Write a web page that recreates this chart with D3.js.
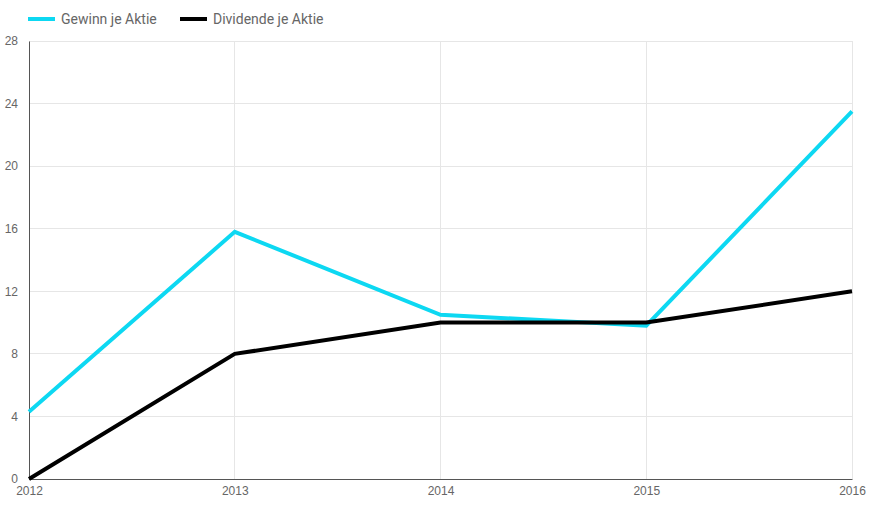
<!DOCTYPE html>
<meta charset="utf-8">
<style>
body { margin: 0; background: #fff; }
svg { font-family: Roboto, sans-serif; }
.grid line { stroke: #e6e6e6; stroke-width: 1; shape-rendering: crispEdges; }
.axis text { fill: #666; font-size: 12px; }
.legend text { fill: #666; font-size: 14px; }
</style>
<body>
<script src="https://d3js.org/d3.v7.min.js"></script>
<script>

var years = [2012, 2013, 2014, 2015, 2016];
var gewinn = [4.3, 15.8, 10.5, 9.8, 23.5];
var dividende = [0, 8, 10, 10, 12];
var yTicks = [0, 4, 8, 12, 16, 20, 24, 28];

var series = [
  { name: "Gewinn je Aktie", values: gewinn, color: "#0dd8f2" },
  { name: "Dividende je Aktie", values: dividende, color: "#000" }
];

var width = 890, height = 512;
var plotLeft = 29, plotRight = 852, plotTop = 41, plotBottom = 479;

var svg = d3.select("body").append("svg")
  .attr("width", width)
  .attr("height", height);

var x = d3.scaleLinear().domain([2012, 2016]).range([plotLeft, plotRight]);
var y = d3.scaleLinear().domain([0, 28]).range([plotBottom, plotTop]);

// grid
var grid = svg.append("g").attr("class", "grid");
grid.selectAll("line.h")
  .data(yTicks.slice(1))
  .enter().append("line")
  .attr("class", "h")
  .attr("x1", plotLeft).attr("x2", plotRight)
  .attr("y1", function (d) { return y(d); })
  .attr("y2", function (d) { return y(d); });
grid.selectAll("line.v")
  .data(years.slice(1))
  .enter().append("line")
  .attr("class", "v")
  .attr("x1", function (d) { return x(d); })
  .attr("x2", function (d) { return x(d); })
  .attr("y1", plotTop).attr("y2", plotBottom);

// axes
var yAxis = svg.append("g").attr("class", "axis")
  .attr("transform", "translate(" + plotLeft + ",0)")
  .call(d3.axisLeft(y).tickValues(yTicks).tickSize(0).tickPadding(11));
yAxis.select(".domain").attr("stroke", "#555");

var xAxis = svg.append("g").attr("class", "axis")
  .attr("transform", "translate(0," + plotBottom + ")")
  .call(d3.axisBottom(x).tickValues(years).tickFormat(d3.format("d")).tickSize(0).tickPadding(7));
xAxis.select(".domain").attr("stroke", "#555");

// lines
var line = d3.line()
  .x(function (d, i) { return x(years[i]); })
  .y(function (d) { return y(d); });

svg.selectAll("path.series")
  .data(series)
  .enter().append("path")
  .attr("class", "series")
  .attr("fill", "none")
  .attr("stroke", function (d) { return d.color; })
  .attr("stroke-width", 4)
  .attr("d", function (d) { return line(d.values); });

// legend
var legend = svg.append("g").attr("class", "legend");
var items = legend.selectAll("g")
  .data(series)
  .enter().append("g")
  .attr("transform", function (d, i) { return "translate(" + (28 + i * 152) + ",19)"; });
items.append("line")
  .attr("x1", 0).attr("x2", 27)
  .attr("stroke", function (d) { return d.color; })
  .attr("stroke-width", 4);
items.append("text")
  .attr("x", 33).attr("dy", "0.35em")
  .text(function (d) { return d.name; });

</script>
